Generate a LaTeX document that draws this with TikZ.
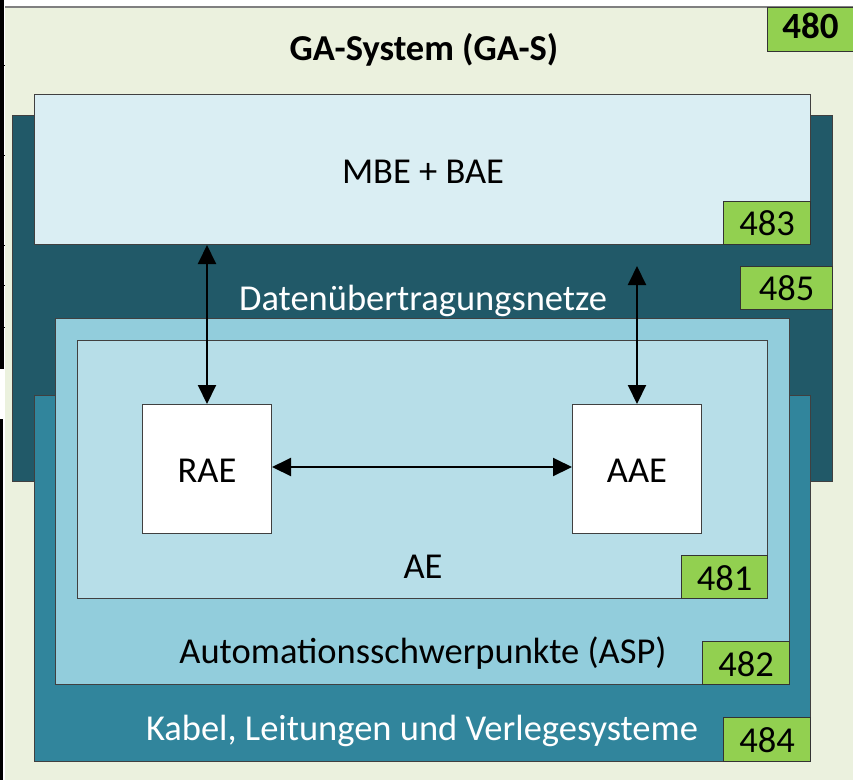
\documentclass[tikz,border=0pt]{standalone}
\usepackage{fontspec}
\setmainfont{Carlito}
\usetikzlibrary{arrows.meta}

\definecolor{bgGreen}{HTML}{EBF1DE}
\definecolor{tagGreen}{HTML}{92D050}
\definecolor{netDark}{HTML}{215968}
\definecolor{cableTeal}{HTML}{31859C}
\definecolor{aspBlue}{HTML}{92CDDC}
\definecolor{aeBlue}{HTML}{B7DEE8}
\definecolor{mbeBlue}{HTML}{DAEEF3}
\definecolor{edgeGray}{HTML}{404040}

\tikzset{
  layer/.style={draw=edgeGray, line width=1pt, inner sep=0pt, anchor=north west},
  tag/.style={layer, fill=tagGreen, draw=black!80},
  label/.style={anchor=base, inner sep=0pt, font=\fontsize{36.5}{40}\selectfont},
  num/.style={label},
  link/.style={line width=2pt, {Triangle[width=18pt,length=19pt]}-{Triangle[width=18pt,length=19pt]}}
}

\begin{document}
\begin{tikzpicture}[x=1pt, y=-1pt]
\useasboundingbox (0,0) rectangle (853,780);

% outer frame of the system
\fill[bgGreen] (5,7) rectangle (853,780);
\draw[gray, line width=1.5pt] (5,7) -- (853,7);

% black rules at the left margin
\fill[black] (0,0) rectangle (4,369);
\foreach \yy in {65,155,245,285,327} \draw[black, line width=1pt] (0,\yy) -- (5,\yy);
\fill[black] (0,419) rectangle (2.5,780);

\node[label, font=\bfseries\fontsize{36.5}{40}\selectfont] (gas) at (424,60) {GA-System (GA-S)};
\node[tag, minimum width=86pt, minimum height=44pt] (t480) at (767,7) {};
\node[num, font=\bfseries\fontsize{37}{40}\selectfont] at (t480.center |- 0,38) {480};

% data networks
\node[layer, fill=netDark, minimum width=820pt, minimum height=366pt] (dnet) at (12,115) {};
\node[label, text=white] (dlabel) at (423,310) {Datenübertragungsnetze};
\node[tag, minimum width=92pt, minimum height=43pt] (t485) at (740,266) {};
\node[num] at (t485.center |- 0,300) {485};

% management and operating level
\node[layer, fill=mbeBlue, minimum width=776pt, minimum height=150pt] (mbe) at (34,94) {};
\node[label] (mlabel) at (423,183) {MBE + BAE};
\node[tag, minimum width=87pt, minimum height=43pt] (t483) at (723,201) {};
\node[num] at (t483.center |- 0,235) {483};

% cables
\node[layer, fill=cableTeal, minimum width=776pt, minimum height=366pt] (cab) at (34,395) {};
\node[label, text=white] (clabel) at (422,740) {Kabel, Leitungen und Verlegesysteme};
\node[tag, minimum width=87pt, minimum height=44pt] (t484) at (723,717) {};
\node[num] at (t484.center |- 0,752) {484};

% automation focus points
\node[layer, fill=aspBlue, minimum width=734pt, minimum height=366pt] (asp) at (55,318) {};
\node[label] (alabel) at (423,663) {Automationsschwerpunkte (ASP)};
\node[tag, minimum width=87pt, minimum height=43pt] (t482) at (702,641) {};
\node[num] at (t482.center |- 0,676) {482};

% automation units
\node[layer, fill=aeBlue, minimum width=690pt, minimum height=258pt] (ae) at (77,340) {};
\node[label] (aelabel) at (423,578) {AE};
\node[tag, minimum width=86pt, minimum height=43pt] (t481) at (681,555) {};
\node[num] at (t481.center |- 0,590) {481};

% room and plant units
\node[layer, fill=white, minimum width=129pt, minimum height=129pt] (rae) at (142,404) {};
\node[label] at (rae.center |- 0,482) {RAE};
\node[layer, fill=white, minimum width=129pt, minimum height=129pt] (aae) at (572,404) {};
\node[label] at (aae.center |- 0,482) {AAE};

% communication links
\coordinate (netpt) at (636,266);
\draw[link] (rae.north |- mbe.south) -- (rae.north);
\draw[link] (aae.north |- netpt) -- (aae.north);
\draw[link] (rae.east |- 0,467) -- (aae.west |- 0,467);
\end{tikzpicture}
\end{document}
